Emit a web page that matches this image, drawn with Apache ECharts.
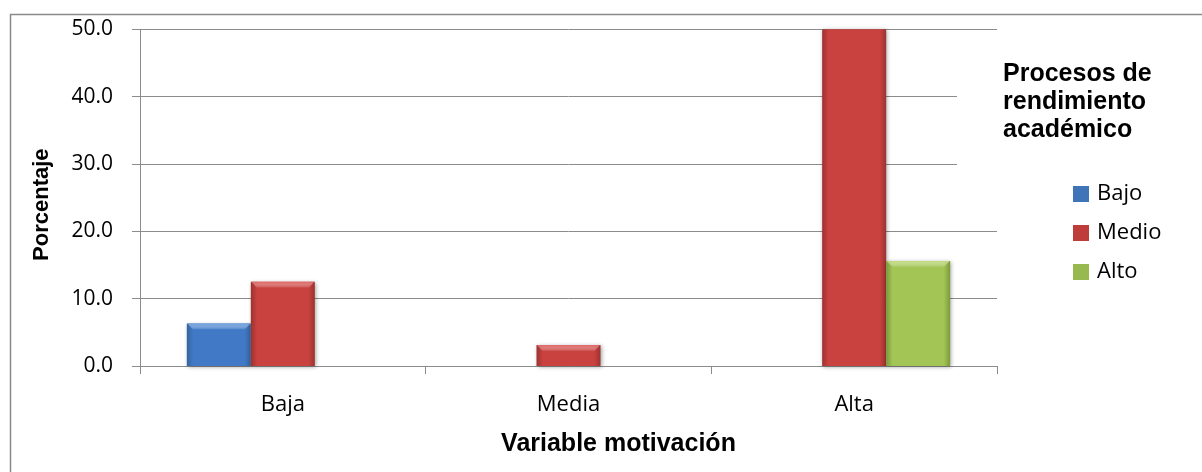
<!DOCTYPE html>
<html>
<head>
<meta charset="utf-8">
<script src="https://cdn.jsdelivr.net/npm/echarts@6/dist/echarts.min.js"></script>
<style>
  html, body { margin: 0; padding: 0; background: #ffffff; }
  #chart { width: 1202px; height: 472px; }
</style>
</head>
<body>
<div id="chart"></div>
<script>
// Motivation level categories and the share of students in each academic-performance group
const categories = ['Baja', 'Media', 'Alta'];
const seriesNames = ['Bajo', 'Medio', 'Alto'];
const bajo = [6.3, null, null];
const medio = [12.5, 3.1, 62.5];
const alto = [null, null, 15.6];
const yTicks = [0, 10, 20, 30, 40, 50];

const axisGray = '#8c8c8c';
const labelFont = '"Open Sans", "Liberation Sans", sans-serif';
const titleFont = '"Liberation Sans", Arial, sans-serif';
const BAR_W = 64;
const BEVEL = 6;

// Horizontal shading for the bevelled bar look: darker rims, lighter middle
function shade(edge, mid) {
  return new echarts.graphic.LinearGradient(0, 0, 1, 0, [
    { offset: 0, color: edge },
    { offset: 0.1, color: mid },
    { offset: 0.9, color: mid },
    { offset: 1, color: edge }
  ]);
}
const palette = [
  shade('#33649f', '#4179c6'),
  shade('#9c3230', '#c9423f'),
  shade('#7b9a3a', '#a2c556')
];
const bevelTop = ['#6fa3e2', '#e06a67', '#c3dd7e'];
const legendColors = ['#3f74b9', '#be3c3a', '#98b94f'];

const values = [bajo, medio, alto];

// Light chamfer along the top edge of each bar, placed through the axis scales
function bevelSeries(i) {
  return {
    type: 'custom',
    clip: true,
    silent: true,
    z: 3,
    data: values[i].map((v, k) => [k, v]).filter(d => d[1] != null),
    renderItem: function (params, api) {
      const cat = api.value(0);
      const val = api.value(1);
      const top = api.coord([cat, val]);
      const left = top[0] - 1.5 * BAR_W + i * BAR_W;
      const y = top[1];
      return {
        type: 'polygon',
        shape: {
          points: [
            [left + 0.5, y],
            [left + BAR_W - 0.5, y],
            [left + BAR_W - BEVEL, y + BEVEL],
            [left + BEVEL, y + BEVEL]
          ]
        },
        style: {
          fill: new echarts.graphic.LinearGradient(0, 0, 0, 1, [
            { offset: 0, color: bevelTop[i] },
            { offset: 1, color: 'rgba(255,255,255,0.05)' }
          ]),
          opacity: 0.9
        }
      };
    }
  };
}

const chart = echarts.init(document.getElementById('chart'), null, { renderer: 'canvas' });

chart.setOption({
  animation: false,
  backgroundColor: '#ffffff',
  grid: { left: 140, right: 205, top: 29.3, bottom: 106, containLabel: false },
  legend: {
    orient: 'vertical',
    left: 1073,
    top: 183,
    padding: 0,
    itemWidth: 16,
    itemHeight: 16,
    itemGap: 17,
    icon: 'rect',
    data: seriesNames.map((n, i) => ({ name: n, itemStyle: { color: legendColors[i] } })),
    textStyle: { fontFamily: labelFont, fontSize: 22, color: '#000', padding: [0, 0, 0, 3] }
  },
  xAxis: {
    type: 'category',
    data: categories,
    boundaryGap: true,
    name: 'Variable motivación',
    nameLocation: 'middle',
    nameGap: 66,
    nameTextStyle: {
      fontFamily: titleFont, fontWeight: 'bold', fontSize: 25, color: '#000',
      padding: [0, 0, 0, 100]
    },
    axisLine: { show: true, lineStyle: { color: axisGray, width: 1 } },
    axisTick: { show: true, length: 8, lineStyle: { color: axisGray } },
    axisLabel: { margin: 28, fontFamily: labelFont, fontSize: 22, color: '#000' }
  },
  yAxis: {
    type: 'value',
    min: 0,
    max: 50,
    interval: 10,
    name: 'Porcentaje',
    nameLocation: 'middle',
    nameGap: 87,
    nameTextStyle: {
      fontFamily: titleFont, fontWeight: 'bold', fontSize: 22, color: '#000',
      padding: [0, 14, 0, 0]
    },
    axisLine: { show: true, lineStyle: { color: axisGray, width: 1 } },
    axisTick: { show: true, length: 8, lineStyle: { color: axisGray } },
    splitLine: { show: true, lineStyle: { color: axisGray, width: 1 } },
    axisLabel: {
      margin: 27,
      fontFamily: labelFont, fontSize: 21, color: '#000',
      formatter: v => (yTicks.includes(v) ? v.toFixed(1) : '')
    }
  },
  series: seriesNames.map((name, i) => ({
    name: name,
    type: 'bar',
    data: values[i],
    barWidth: BAR_W,
    barGap: '0%',
    clip: true,
    itemStyle: {
      color: palette[i],
      shadowColor: 'rgba(0,0,0,0.35)',
      shadowBlur: 4,
      shadowOffsetX: 1,
      shadowOffsetY: 1
    }
  })).concat([0, 1, 2].map(bevelSeries)),
  graphic: [
    // outer chart frame
    {
      type: 'rect', left: 8, top: 12, z: 1, silent: true,
      shape: { width: 1400, height: 600 },
      style: { fill: null, stroke: '#8a8a8a', lineWidth: 1.5 }
    },
    // white backing behind the legend heading
    {
      type: 'rect', left: 957, top: 45, z: 20, silent: true,
      shape: { width: 60, height: 150 },
      style: { fill: '#ffffff' }
    },
    {
      type: 'text', left: 1003, top: 60, z: 21, silent: true,
      style: {
        text: 'Procesos de\nrendimiento\nacadémico',
        fontFamily: titleFont, fontWeight: 'bold', fontSize: 25,
        lineHeight: 28, fill: '#000'
      }
    }
  ]
});
</script>
</body>
</html>
